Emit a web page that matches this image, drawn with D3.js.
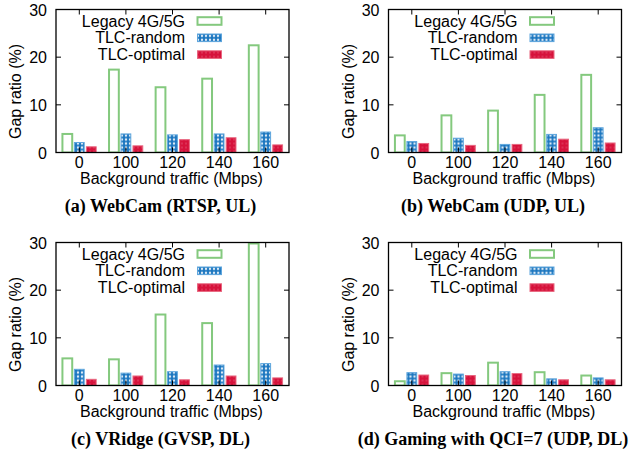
<!DOCTYPE html>
<meta charset="utf-8">
<style>
body { margin: 0; background: #fff; }
text { font-family: "Liberation Sans", Arial, sans-serif; font-size: 16px; fill: #000; }
.cap { font-family: "Liberation Serif", "Times New Roman", serif; font-weight: bold; font-size: 18px; }
</style>
<svg width="631" height="453"></svg>
<script src="https://cdn.jsdelivr.net/npm/d3@7"></script>
<script>

var categories = ["0", "100", "120", "140", "160"];
var seriesNames = ["Legacy 4G/5G", "TLC-random", "TLC-optimal"];
var yTicks = [0, 10, 20, 30];

// gap ratio (%) per panel: legacy, random, optimal
var legacyA  = [4.1, 17.6, 13.9, 15.7, 22.7];
var randomA  = [2.2, 4.0, 3.8, 4.0, 4.4];
var optimalA = [1.3, 1.5, 2.8, 3.2, 1.7];

var legacyB  = [3.8, 8.0, 9.0, 12.3, 16.5];
var randomB  = [2.4, 3.1, 1.8, 3.9, 5.3];
var optimalB = [2.0, 1.6, 1.8, 2.9, 2.1];

var legacyC  = [5.9, 5.7, 15.1, 13.3, 30];
var randomC  = [3.5, 2.7, 3.0, 4.4, 4.7];
var optimalC = [1.4, 2.1, 1.3, 2.1, 1.7];

var legacyD  = [1.1, 2.8, 5.0, 3.0, 2.3];
var randomD  = [2.8, 2.5, 3.0, 1.5, 1.7];
var optimalD = [2.3, 2.2, 2.6, 1.3, 1.3];

var panels = [
  {cap: "(a) WebCam (RTSP, UL)", x: 56, y: 9.5, data: [legacyA, randomA, optimalA]},
  {cap: "(b) WebCam (UDP, UL)", x: 388.5, y: 9.5, data: [legacyB, randomB, optimalB]},
  {cap: "(c) VRidge (GVSP, DL)", x: 56, y: 242.5, data: [legacyC, randomC, optimalC]},
  {cap: "(d) Gaming with QCI=7 (UDP, DL)", x: 388.5, y: 242.5, data: [legacyD, randomD, optimalD]}
];

var W = 233, H = 143;
var green = "#84c97e", blue = "#1b76bf", red = "#d6123b";

var svg = d3.select("svg");
var defs = svg.append("defs");

var pr = defs.append("pattern").attr("id", "pRand")
  .attr("patternUnits", "userSpaceOnUse").attr("width", 4).attr("height", 4);
pr.append("rect").attr("width", 4).attr("height", 4).attr("fill", blue);
pr.append("path").attr("d", "M2,0.6L3.4,2L2,3.4L0.6,2Z").attr("fill", "#fff");

var po = defs.append("pattern").attr("id", "pOpt")
  .attr("patternUnits", "userSpaceOnUse").attr("width", 4).attr("height", 4);
po.append("rect").attr("width", 4).attr("height", 4).attr("fill", red);
po.append("rect").attr("x", 1.5).attr("y", 1.5).attr("width", 1).attr("height", 1).attr("fill", "#f08a9c");

var fills = ["#fff", "url(#pRand)", "url(#pOpt)"];
var strokes = [green, "#5fa6dd", "#e8667f"];

var x = d3.scaleLinear().domain([-0.5, 4.5]).range([0, W]);
var y = d3.scaleLinear().domain([0, 30]).range([H, 0]);
var step = x(1) - x(0);
var off = step * 0.257, bw = step * 0.21;

panels.forEach(function (p) {
  var g = svg.append("g").attr("transform", "translate(" + p.x + "," + p.y + ")");
  var clip = "clip" + p.x + "_" + p.y;
  defs.append("clipPath").attr("id", clip).append("rect").attr("width", W).attr("height", H);

  var bars = g.append("g").attr("clip-path", "url(#" + clip + ")");
  p.data.forEach(function (vals, s) {
    bars.selectAll(null).data(vals).enter().append("rect")
      .attr("x", function (d, i) { return x(i) + (s - 1) * off - bw / 2; })
      .attr("y", function (d) { return y(d) + (s == 0 ? 1 : 0.5); })
      .attr("width", bw)
      .attr("height", function (d) { return Math.max(0, H - y(d) - (s == 0 ? 1 : 0.5)); })
      .attr("fill", fills[s])
      .attr("stroke", strokes[s])
      .attr("stroke-width", s == 0 ? 2 : 1);
  });

  // ticks (inward, mirrored)
  var tk = g.append("g").attr("stroke", "#000").attr("stroke-width", 1);
  tk.selectAll(null).data(yTicks).enter().append("line")
    .attr("x1", 0).attr("x2", 5).attr("y1", y).attr("y2", y);
  tk.selectAll(null).data(yTicks).enter().append("line")
    .attr("x1", W).attr("x2", W - 5).attr("y1", y).attr("y2", y);
  tk.selectAll(null).data(categories).enter().append("line")
    .attr("x1", function (d, i) { return x(i); }).attr("x2", function (d, i) { return x(i); })
    .attr("y1", H).attr("y2", H - 5);
  tk.selectAll(null).data(categories).enter().append("line")
    .attr("x1", function (d, i) { return x(i); }).attr("x2", function (d, i) { return x(i); })
    .attr("y1", 0).attr("y2", 5);

  g.append("rect").attr("width", W).attr("height", H)
    .attr("fill", "none").attr("stroke", "#000").attr("stroke-width", 1.3);

  g.selectAll(null).data(yTicks).enter().append("text")
    .attr("x", -9).attr("y", function (d) { return y(d) + 6; })
    .attr("text-anchor", "end").text(function (d) { return d; });

  g.selectAll(null).data(categories).enter().append("text")
    .attr("x", function (d, i) { return x(i); }).attr("y", H + 15.5)
    .attr("text-anchor", "middle").text(function (d) { return d; });

  g.append("text").attr("x", W / 2 - 1).attr("y", H + 31)
    .attr("text-anchor", "middle").text("Background traffic (Mbps)");

  g.append("text").attr("transform", "translate(-35," + 82 + ") rotate(-90)")
    .attr("text-anchor", "middle").text("Gap ratio (%)");

  g.append("text").attr("class", "cap").attr("x", 104.5).attr("y", H + 59.5)
    .attr("text-anchor", "middle").text(p.cap);

  // legend
  var lg = g.selectAll(".lg").data(seriesNames).enter().append("g")
    .attr("transform", function (d, i) { return "translate(0," + (11.5 + i * 16.8) + ")"; });
  lg.append("text").attr("x", 129).attr("y", 5.5).attr("text-anchor", "end").text(function (d) { return d; });
  lg.append("rect").attr("x", 141.5).attr("y", -3.8).attr("width", 24).attr("height", 7.6)
    .attr("fill", function (d, i) { return fills[i]; })
    .attr("stroke", function (d, i) { return strokes[i]; })
    .attr("stroke-width", function (d, i) { return i == 0 ? 2 : 1; });
});

</script>
